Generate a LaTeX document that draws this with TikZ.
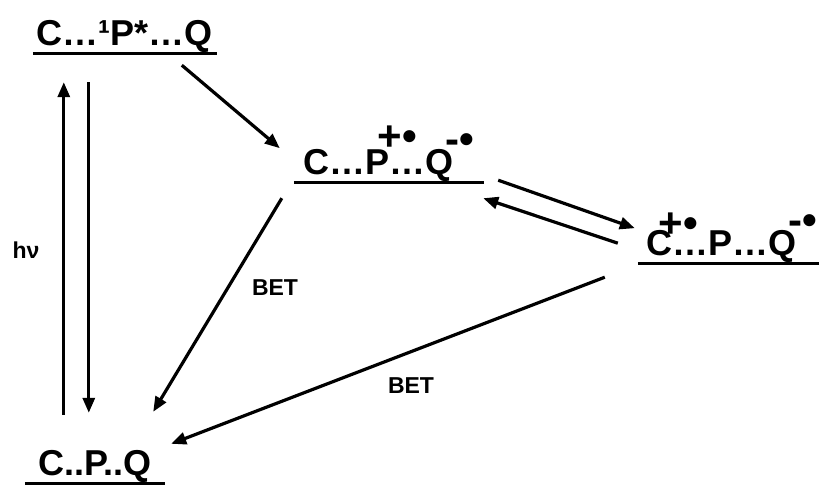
\documentclass[tikz,border=0pt]{standalone}
\usepackage{fontspec}
\setmainfont{Liberation Sans}
\usetikzlibrary{arrows.meta}
\newcommand{\levelfont}{\fontsize{36}{40}\selectfont\bfseries}
\newcommand{\tagfont}{\fontsize{23}{26}\selectfont\bfseries}
\newcommand{\chargefont}{\fontsize{42}{44}\selectfont}
% radical charges written over the letters
\newcommand{\radcat}[2]{\kern-#1\rlap{\raisebox{#2}{\chargefont+•}}\kern#1}
\newcommand{\radan}[1]{\kern-8pt\raisebox{#1}{\chargefont-•}}

\begin{document}
\begin{tikzpicture}[x=1pt, y=-1pt,
  level/.style={font=\levelfont, inner xsep=0pt, inner ysep=0pt, text height=28pt, text depth=8pt, anchor=base},
  bar/.style={line width=3.4pt},
  flow/.style={line width=3.2pt, -{Triangle[length=15pt,width=12pt]}},
  tag/.style={font=\tagfont}]
\useasboundingbox (0,0) rectangle (819,485);
% energy levels
\node[level, minimum width=184pt] (T) at (125,45) {C…¹P*…Q};
\node[level, minimum width=190pt] (M) at (389,174) {C…P\radcat{12pt}{24pt}…Q\radan{21pt}};
\node[level, minimum width=188pt] (R) at (732,255) {C\radcat{14pt}{18pt}…P…Q\radan{21pt}};
\node[level, minimum width=140pt] (B) at (95,475) {C..P..Q};
\foreach \n in {T,M,R,B}
  \draw[bar] (\n.south west) -- (\n.south east);
% excitation and decay
\draw[flow] ([xshift=39pt,yshift=32pt]B.north west) -- ([xshift=31pt,yshift=-29pt]T.south west);
\draw[flow] ([xshift=56pt,yshift=-29pt]T.south west) -- ([xshift=64pt,yshift=34pt]B.north west);
% charge separation
\draw[flow] ([xshift=149pt,yshift=-12pt]T.south west) -- ([xshift=-14pt,yshift=34pt]M.south west);
\draw[flow] ([xshift=14pt,yshift=2pt]M.south east) -- ([xshift=-3pt,yshift=35pt]R.south west);
\draw[flow] ([xshift=-20pt,yshift=20pt]R.south west) -- ([xshift=-1pt,yshift=-16pt]M.south east);
% back electron transfer
\draw[flow] ([xshift=-12pt,yshift=-16pt]M.south west) -- ([xshift=-12pt,yshift=35pt]B.north east);
\draw[flow] ([xshift=-33pt,yshift=-14pt]R.south west) -- ([xshift=6pt,yshift=3pt]B.north east);
\node[tag] (hv) at (26,250) {hν};
\node[tag] (bet1) at (275,288) {BET};
\node[tag] (bet2) at (411,386) {BET};
\end{tikzpicture}
\end{document}
